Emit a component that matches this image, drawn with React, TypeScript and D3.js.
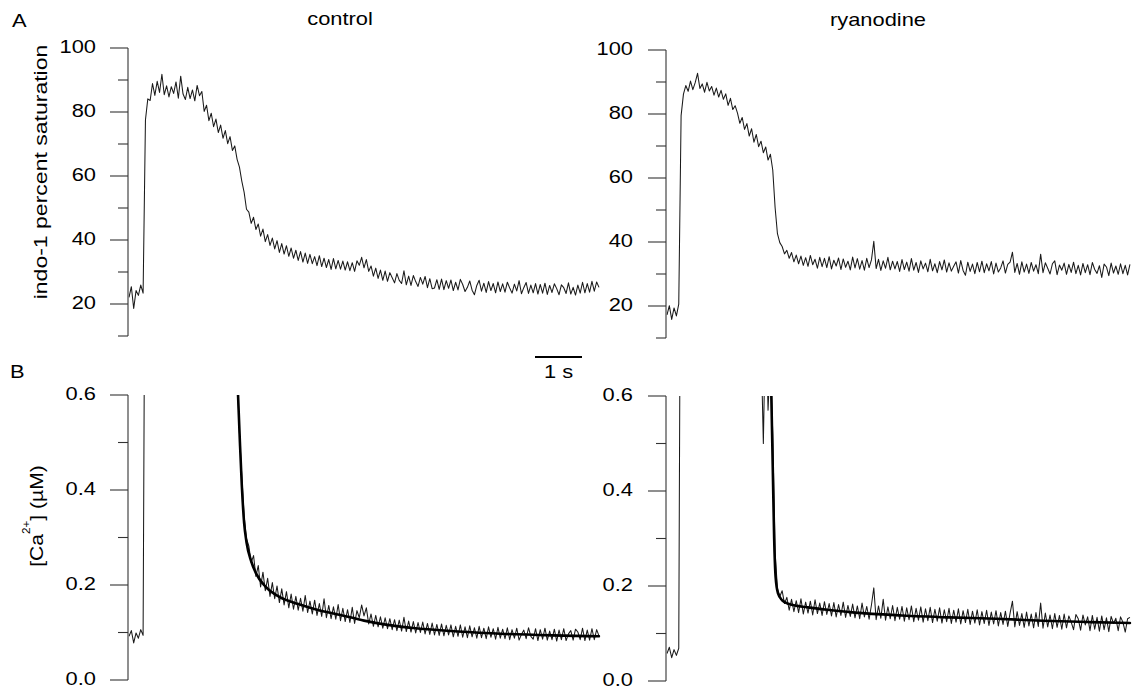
import React from "react";
import * as d3 from "d3";

// ---------------- data ----------------
const SAMPLE_DT = 0.05; // s between samples

// indo-1 percent saturation, control (t = 0 .. 10 s)
const controlSaturation = [
  22.1, 25.4, 18.6, 24.2, 22.7, 25.9, 23.4, 77.5, 84.1, 83.6,
  88.9, 85.2, 89.6, 86.1, 91.8, 85.4, 88.2, 84.7, 87.9, 85.8,
  89.4, 84.3, 91.2, 85.6, 83.9, 87.7, 84.2, 86.9, 83.5, 88.3,
  85.1, 86.4, 80.2, 82.1, 77.3, 79.6, 75.4, 77.8, 73.6, 75.9,
  71.8, 74.2, 70.1, 72.3, 68.0, 69.4, 65.2, 62.8, 58.4, 54.9,
  49.6, 48.7, 45.2, 47.1, 43.3, 45.0, 41.2, 43.4, 39.5, 41.7,
  38.3, 40.6, 37.2, 39.8, 36.1, 38.9, 35.6, 38.2, 34.9, 37.5,
  34.3, 36.8, 33.6, 36.4, 33.1, 35.9, 32.7, 35.5, 32.6, 34.8,
  32.0, 35.1, 31.7, 34.3, 31.4, 33.9, 30.8, 34.2, 31.0, 33.6,
  30.9, 33.4, 30.6, 33.2, 30.4, 32.9, 30.2, 33.5, 32.1, 34.6,
  31.3, 33.9, 30.2, 31.9, 28.7, 31.2, 28.0, 30.6, 27.4, 30.3,
  27.1, 29.8, 28.2, 26.6, 29.5, 27.4, 26.4, 30.4, 26.0, 28.7,
  25.8, 28.9, 27.0, 25.5, 28.3, 26.2, 28.6, 25.1, 27.9, 24.8,
  25.0, 27.6, 24.6, 27.8, 24.5, 27.3, 24.9, 27.5, 24.2, 26.8,
  24.4, 27.7, 26.1, 23.9, 25.2, 27.2, 24.3, 22.9, 25.8, 27.4,
  24.0, 26.5, 23.6, 27.0, 24.2, 26.4, 23.5, 26.9, 23.9, 26.3,
  23.7, 26.8, 25.0, 23.4, 26.2, 24.1, 27.3, 23.2, 25.1, 26.7,
  23.3, 25.9, 23.5, 26.4, 23.1, 26.1, 23.4, 26.5, 23.0, 25.8,
  23.6, 26.3, 24.8, 22.9, 26.0, 25.1, 23.3, 26.6, 23.1, 25.2,
  22.8, 25.9, 23.4, 26.8, 23.5, 26.4, 23.7, 27.1, 24.0, 26.9,
  25.2,
];

// indo-1 percent saturation, ryanodine (t = 0 .. 9.85 s)
const ryanodineSaturation = [
  17.2, 20.1, 15.8, 19.4, 16.9, 20.6, 79.5, 86.2, 88.9, 87.1,
  90.3, 87.6, 89.8, 92.7, 88.0, 89.4, 86.8, 89.9, 87.2, 88.6,
  85.9, 88.1, 85.3, 87.4, 84.6, 86.3, 82.7, 84.9, 81.4, 82.6,
  80.3, 77.1, 78.9, 75.2, 77.0, 73.1, 75.4, 71.2, 73.6, 69.8,
  71.5, 67.9, 69.7, 65.6, 67.4, 62.5, 50.8, 42.6, 39.8, 38.6,
  36.3, 37.4, 34.9, 36.7, 33.8, 35.9, 33.2, 35.6, 32.7, 35.1,
  32.4, 35.8, 32.9, 34.6, 31.8, 35.2, 32.3, 34.9, 32.0, 35.4,
  31.6, 34.3, 32.5, 35.0, 31.4, 34.7, 32.1, 34.0, 31.3, 35.3,
  31.9, 34.8, 31.5, 34.2, 31.2, 34.9, 32.0, 34.4, 40.2, 31.7,
  34.6, 31.1, 34.1, 31.8, 35.2, 31.3, 34.0, 31.6, 33.9, 30.8,
  34.5, 31.4, 33.7, 30.9, 34.8, 31.2, 33.6, 30.5, 34.1, 31.6,
  33.4, 30.7, 34.6, 31.0, 33.2, 30.4, 33.9, 31.3, 34.4, 30.6,
  33.5, 30.9, 32.4, 33.8, 30.3, 34.2, 31.1, 29.6, 33.7, 30.8,
  33.1, 30.1, 33.6, 30.7, 34.0, 30.4, 33.2, 31.0, 33.9, 30.0,
  33.4, 30.6, 31.9, 34.1, 30.3, 33.0, 33.7, 36.8, 30.5, 33.3,
  29.9, 33.8, 30.6, 33.1, 30.2, 33.6, 30.9, 32.9, 30.1, 36.2,
  30.4, 33.5, 31.8, 30.0, 33.2, 34.1, 29.8, 32.8, 31.2, 33.4,
  29.9, 33.0, 30.5, 33.7, 30.1, 32.7, 29.7, 33.3, 30.4, 32.9,
  29.8, 33.6, 31.4, 30.2, 32.6, 28.9, 33.1, 32.2, 29.5, 33.4,
  30.3, 32.5, 29.9, 33.2, 30.1, 32.7, 29.7, 33.0,
];

// [Ca2+] (uM), control: rising part (starts t = 0) and decay part (starts t = 2.25 s)
const controlCaRiseStart = 0;
const controlCaRise = [0.092, 0.104, 0.078, 0.099, 0.088, 0.106, 0.094, 1.2];
const controlCaDecayStart = 2.25;
const controlCaDecay = [
  0.95, 0.64, 0.52, 0.43, 0.345, 0.298, 0.282, 0.247, 0.262, 0.218,
  0.241, 0.196, 0.227, 0.188, 0.214, 0.176, 0.205, 0.171, 0.198, 0.163,
  0.192, 0.158, 0.186, 0.152, 0.181, 0.149, 0.176, 0.147, 0.172, 0.145,
  0.178, 0.142, 0.166, 0.139, 0.168, 0.136, 0.161, 0.134, 0.171, 0.131,
  0.157, 0.129, 0.154, 0.128, 0.159, 0.125, 0.151, 0.123, 0.148, 0.121,
  0.153, 0.119, 0.146, 0.131, 0.158, 0.135, 0.152, 0.118, 0.139, 0.113,
  0.136, 0.112, 0.133, 0.109, 0.131, 0.108, 0.129, 0.106, 0.127, 0.104,
  0.126, 0.103, 0.132, 0.102, 0.124, 0.101, 0.123, 0.099, 0.121, 0.100,
  0.122, 0.097, 0.119, 0.096, 0.120, 0.095, 0.117, 0.094, 0.118, 0.093,
  0.115, 0.095, 0.116, 0.091, 0.113, 0.092, 0.116, 0.090, 0.112, 0.089,
  0.114, 0.091, 0.110, 0.088, 0.113, 0.089, 0.109, 0.087, 0.112, 0.090,
  0.108, 0.086, 0.111, 0.088, 0.107, 0.087, 0.110, 0.085, 0.106, 0.088,
  0.109, 0.084, 0.096, 0.105, 0.087, 0.110, 0.092, 0.086, 0.108, 0.083,
  0.106, 0.086, 0.109, 0.084, 0.103, 0.085, 0.107, 0.082, 0.105, 0.085,
  0.108, 0.083, 0.097, 0.104, 0.084, 0.107, 0.101, 0.085, 0.109, 0.083,
  0.105, 0.084, 0.108, 0.085, 0.106, 0.093,
];

// [Ca2+] (uM), ryanodine
const ryanodineCaRiseStart = 0;
const ryanodineCaRise = [0.058, 0.071, 0.049, 0.066, 0.054, 0.069, 1.3];
const ryanodineCaDecayStart = 2.0;
const ryanodineCaDecay = [
  0.72, 0.50, 0.78, 0.57, 0.69, 0.52, 0.27, 0.195, 0.178, 0.19,
  0.163, 0.176, 0.149, 0.172, 0.146, 0.169, 0.144, 0.173, 0.141, 0.166,
  0.143, 0.168, 0.139, 0.171, 0.142, 0.164, 0.138, 0.167, 0.140, 0.163,
  0.137, 0.165, 0.135, 0.161, 0.138, 0.166, 0.134, 0.159, 0.136, 0.162,
  0.133, 0.158, 0.131, 0.164, 0.135, 0.157, 0.130, 0.160, 0.196, 0.129,
  0.158, 0.132, 0.172, 0.128, 0.156, 0.131, 0.159, 0.127, 0.155, 0.130,
  0.157, 0.126, 0.154, 0.129, 0.158, 0.125, 0.153, 0.128, 0.156, 0.124,
  0.152, 0.127, 0.155, 0.123, 0.151, 0.126, 0.154, 0.122, 0.150, 0.125,
  0.153, 0.121, 0.149, 0.124, 0.152, 0.120, 0.148, 0.123, 0.151, 0.119,
  0.147, 0.122, 0.150, 0.118, 0.146, 0.121, 0.149, 0.117, 0.145, 0.120,
  0.148, 0.116, 0.144, 0.119, 0.147, 0.115, 0.143, 0.168, 0.114, 0.146,
  0.117, 0.142, 0.113, 0.145, 0.116, 0.141, 0.112, 0.144, 0.115, 0.164,
  0.111, 0.143, 0.114, 0.139, 0.110, 0.142, 0.113, 0.138, 0.109, 0.141,
  0.112, 0.137, 0.124, 0.108, 0.140, 0.131, 0.107, 0.139, 0.118, 0.135,
  0.106, 0.138, 0.109, 0.134, 0.105, 0.137, 0.108, 0.133, 0.104, 0.136,
  0.121, 0.132, 0.106, 0.135, 0.124, 0.103, 0.131, 0.134,
];

// fitted decay curves
const controlFitTimes = [2.32, 2.36, 2.4, 2.45, 2.5, 2.6, 2.7, 2.9, 3.2, 3.6, 4.0, 4.5, 5.0, 5.5, 6.0, 7.0, 8.0, 9.0, 10.0];
const controlFitValues = [0.6, 0.5, 0.41, 0.33, 0.29, 0.25, 0.225, 0.197, 0.175, 0.16, 0.148, 0.137, 0.125, 0.116, 0.11, 0.102, 0.097, 0.094, 0.092];
const ryanodineFitTimes = [2.22, 2.25, 2.28, 2.31, 2.36, 2.45, 2.6, 3.0, 3.5, 4.0, 5.0, 6.0, 7.0, 8.0, 9.0, 9.85];
const ryanodineFitValues = [0.6, 0.45, 0.3, 0.22, 0.185, 0.17, 0.162, 0.155, 0.149, 0.144, 0.138, 0.134, 0.131, 0.127, 0.124, 0.122];

// axes
const satMajorTicks = [20, 40, 60, 80, 100];
const satMinorTicks = [10, 30, 50, 70, 90];
const caMajorTicks = [0, 0.2, 0.4, 0.6];
const caMinorTicks = [0.1, 0.3, 0.5];
const satDomain = [10, 100];
const caDomain = [0, 0.6];
const timeDomain = [0, 10];
const scaleBarSeconds = 1;

const columnTitles = ["control", "ryanodine"];
const panelLetters = ["A", "B"];
const satLabel = "indo-1 percent saturation";

// ---------------- drawing ----------------
const FONT = "Arial, 'Liberation Sans', Helvetica, sans-serif";
const SX = 1.25;
const INK = "#000";
const TRACE = "#1a1a1a";

function HText({ x, y, anchor = "start", size = 17.5, children }: any) {
  return (
    <text
      transform={`translate(${x},${y}) scale(${SX},1)`}
      textAnchor={anchor}
      fontSize={size}
      fontFamily={FONT}
      fill={INK}
    >
      {children}
    </text>
  );
}

type Series = { start: number; values: number[] };

function Panel({ id, axisX, xScale, yScale, major, minor, fmt, series, fitT, fitV, clipRight, labelGap }: any) {
  const [y0, y1] = yScale.range();
  const line = (s: Series) =>
    d3
      .line<number>()
      .x((_, i) => xScale(s.start + i * SAMPLE_DT))
      .y((d) => yScale(d))(s.values);
  const fitPath =
    fitT &&
    d3
      .line<number>()
      .x((_, i) => xScale(fitT[i]))
      .y((d) => yScale(d))
      .curve(d3.curveMonotoneX)(fitV);
  return (
    <g>
      <defs>
        <clipPath id={id}>
          <rect x={axisX + 0.5} y={y1} width={clipRight - axisX} height={y0 - y1 + 4} />
        </clipPath>
      </defs>
      <line x1={axisX} x2={axisX} y1={y0} y2={y1} stroke="#333" strokeWidth={1.1} />
      {major.map((v: number) => (
        <g key={"M" + v}>
          <line x1={axisX - 18} x2={axisX} y1={yScale(v)} y2={yScale(v)} stroke="#333" strokeWidth={1.1} />
          <HText x={axisX - labelGap} y={yScale(v) + 4.8} anchor="end">
            {fmt(v)}
          </HText>
        </g>
      ))}
      {minor.map((v: number) => (
        <line key={"m" + v} x1={axisX - 10} x2={axisX} y1={yScale(v)} y2={yScale(v)} stroke="#333" strokeWidth={1.1} />
      ))}
      <g clipPath={`url(#${id})`}>
        {series.map((s: Series, k: number) => (
          <path key={k} d={line(s) || ""} fill="none" stroke={TRACE} strokeWidth={1.05} strokeLinejoin="round" />
        ))}
        {fitPath && <path d={fitPath} fill="none" stroke="#000" strokeWidth={2.6} strokeLinecap="round" />}
      </g>
    </g>
  );
}

export default function App() {
  const xLeft = d3.scaleLinear().domain(timeDomain).range([129, 599]);
  const xRight = d3.scaleLinear().domain(timeDomain).range([667, 1137]);
  const ySatL = d3.scaleLinear().domain(satDomain).range([336, 48]);
  const ySatR = d3.scaleLinear().domain(satDomain).range([338, 50]);
  const yCaL = d3.scaleLinear().domain(caDomain).range([680, 395]);
  const yCaR = d3.scaleLinear().domain(caDomain).range([681, 396]);
  const fSat = d3.format("d");
  const fCa = d3.format(".1f");
  const barX = 535;
  const barW = xLeft(scaleBarSeconds) - xLeft(0);

  return (
    <svg width={1133} height={691} style={{ position: "absolute", left: 0, top: 0 }}>
      <rect width={1133} height={691} fill="#fff" />

      <HText x={12} y={26.5}>{panelLetters[0]}</HText>
      <HText x={10} y={378}>{panelLetters[1]}</HText>
      <HText x={340} y={25} anchor="middle">{columnTitles[0]}</HText>
      <HText x={878} y={26} anchor="middle">{columnTitles[1]}</HText>

      <g transform="translate(47,172) rotate(-90) scale(1.28,1)">
        <text textAnchor="middle" fontSize={18} fontFamily={FONT} fill={INK}>{satLabel}</text>
      </g>
      <g transform="translate(43,516) rotate(-90) scale(1.17,1)">
        <text textAnchor="middle" fontSize={18} fontFamily={FONT} fill={INK}>
          [Ca<tspan fontSize={10} dy={-13}>2+</tspan>
          <tspan dy={13}>] (µM)</tspan>
        </text>
      </g>

      <Panel id="cTL" axisX={128} xScale={xLeft} yScale={ySatL} major={satMajorTicks} minor={satMinorTicks} fmt={fSat}
        series={[{ start: 0, values: controlSaturation }]} clipRight={600} labelGap={32} />
      <Panel id="cTR" axisX={666} xScale={xRight} yScale={ySatR} major={satMajorTicks} minor={satMinorTicks} fmt={fSat}
        series={[{ start: 0, values: ryanodineSaturation }]} clipRight={1133} labelGap={33} />
      <Panel id="cBL" axisX={128} xScale={xLeft} yScale={yCaL} major={caMajorTicks} minor={caMinorTicks} fmt={fCa}
        series={[{ start: controlCaRiseStart, values: controlCaRise }, { start: controlCaDecayStart, values: controlCaDecay }]}
        fitT={controlFitTimes} fitV={controlFitValues} clipRight={600} labelGap={32} />
      <Panel id="cBR" axisX={666} xScale={xRight} yScale={yCaR} major={caMajorTicks} minor={caMinorTicks} fmt={fCa}
        series={[{ start: ryanodineCaRiseStart, values: ryanodineCaRise }, { start: ryanodineCaDecayStart, values: ryanodineCaDecay }]}
        fitT={ryanodineFitTimes} fitV={ryanodineFitValues} clipRight={1133} labelGap={33} />

      <line x1={barX} x2={barX + barW} y1={357} y2={357} stroke={INK} strokeWidth={2} />
      <HText x={barX + barW / 2} y={378} anchor="middle">{`${scaleBarSeconds} s`}</HText>
    </svg>
  );
}
